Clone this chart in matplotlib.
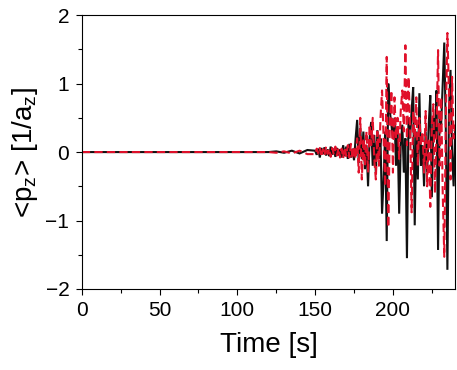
import matplotlib
matplotlib.use("Agg")
import matplotlib.pyplot as plt
from matplotlib.ticker import MultipleLocator

plt.rcParams['font.family'] = ['Liberation Sans', 'DejaVu Sans']

# time axis (s)
time_early = [0, 20, 40, 60, 80, 100, 110, 120, 125, 130, 135, 140, 145]
early_black = [0, 0, 0, 0, 0, 0, 0.0, 0.0, 0.01, -0.01, 0.02, -0.02, 0.03]
early_red = [0, 0, 0, 0, 0, 0, 0.0, 0.0, -0.01, 0.01, -0.02, 0.02, -0.03]

time_late = list(range(150, 241))
black_late = [0.02, -0.04, 0.05, -0.08, 0.06, -0.03, 0.07, -0.05, 0.04, -0.06,
              0.08, -0.04, 0.05, -0.07, 0.06, -0.05, 0.04, -0.08, 0.10, -0.06,
              0.08, -0.10, 0.12, -0.08, 0.05, -0.12, 0.20, 0.47, -0.16, 0.35,
              -0.10, 0.30, -0.25, 0.10, -0.50, 0.20, 0.44, -0.20, 0.25, -0.30,
              0.32, -0.10, 0.20, -0.90, -0.40, 0.30, -1.30, 1.00, 0.60, 0.40,
              0.20, 0.50, -0.20, 0.30, -0.90, 0.10, 0.40, -0.30, 0.20, -1.55,
              0.50, 0.20, 0.60, 0.95, -1.07, 0.30, -0.40, 0.86, -0.20, 0.10,
              -0.50, 0.30, -0.30, 0.40, 0.83, -0.66, 0.50, 0.20, 0.90, -1.43,
              0.60, 0.40, 1.00, 1.60, 0.30, -1.72, 0.60, 1.20, 0.00, -0.50,
              0.30]
red_late = [-0.03, 0.05, -0.02, 0.06, -0.07, 0.04, -0.05, 0.08, -0.03, 0.05,
            -0.07, 0.06, -0.04, 0.08, -0.05, 0.06, -0.08, 0.05, -0.09, 0.07,
            -0.06, 0.10, -0.08, 0.12, -0.10, 0.08, -0.10, 0.20, -0.30, 0.50,
            -0.40, 0.20, -0.20, 0.30, -0.30, 0.40, 0.10, 0.50, -0.10, -0.40,
            0.30, -0.20, 0.50, 0.90, 0.20, -0.50, 1.39, -1.10, 0.40, 0.90,
            -0.30, 0.80, 0.20, 0.50, -0.10, 0.60, 0.90, 0.30, 1.56, 0.10,
            1.10, 0.40, -0.88, 0.60, 0.20, 0.80, -0.20, 0.50, 0.10, 0.30,
            -0.30, 0.60, -0.50, 0.20, -0.80, 0.40, 0.70, -0.60, 0.30, 1.49,
            -0.20, 0.80, -0.60, -1.53, 0.50, 1.74, 0.90, -0.40, 1.10, 0.20,
            0.40]

time = time_early + time_late
black = early_black + black_late
red = early_red + red_late

fig = plt.figure(figsize=(4.57, 3.70), dpi=100)
ax = fig.add_axes([0.179, 0.219, 0.817, 0.740])

ax.plot(time, black, color='#111111', lw=1.5, solid_joinstyle='miter')
ax.plot(time, red, color='#e0102a', lw=1.5, ls=(0, (4, 2)))

ax.set_xlim(0, 240)
ax.set_ylim(-2, 2)
ax.xaxis.set_major_locator(MultipleLocator(50))
ax.xaxis.set_minor_locator(MultipleLocator(25))
ax.yaxis.set_major_locator(MultipleLocator(1))
ax.yaxis.set_minor_locator(MultipleLocator(0.5))
ax.tick_params(which='both', direction='out', top=False, right=False,
               labelsize=15, width=0.8)
ax.tick_params(which='major', length=4)
ax.tick_params(which='minor', length=3)
ax.tick_params(axis='x', pad=5)
ax.tick_params(axis='y', pad=5)
for s in ax.spines.values():
    s.set_linewidth(0.8)

ax.set_xlabel('Time [s]', fontsize=20, labelpad=8)
ax.set_ylabel(r'<p$_\mathregular{z}$> [1/a$_\mathregular{z}$]', fontsize=20, labelpad=4)

fig.savefig('out.png', dpi=100)
